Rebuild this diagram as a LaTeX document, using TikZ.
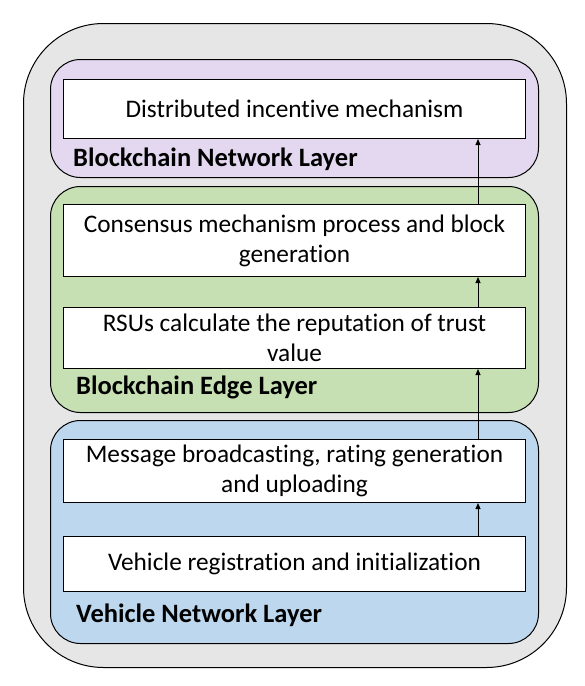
\documentclass[tikz,border=0pt]{standalone}
\usepackage{fontspec}
\setmainfont{Carlito}[Ligatures=NoCommon]
\usetikzlibrary{arrows.meta}
\definecolor{outerfill}{HTML}{E6E6E6}
\definecolor{purplefill}{HTML}{E4D8F0}
\definecolor{greenfill}{HTML}{C6E0B4}
\definecolor{bluefill}{HTML}{BDD7EE}
\begin{document}
\begin{tikzpicture}[x=1pt,y=-1pt,
  panel/.style={draw=black, line width=1pt, anchor=north west, inner sep=0pt},
  layer/.style={panel, rounded corners=30pt, minimum width=488pt},
  stepbox/.style={panel, fill=white, minimum width=462pt, align=center,
    font=\fontsize{25.3}{30}\selectfont},
  layerlabel/.style={anchor=base west, inner sep=0pt, font=\fontsize{26.5}{30}\selectfont\bfseries},
  flow/.style={draw=black, line width=1pt, -{Triangle[width=5pt,length=6pt]}}]
\useasboundingbox (0,0) rectangle (585,686);
\node[panel, fill=outerfill, rounded corners=80pt, minimum width=543pt, minimum height=644pt] (outer) at (23,23) {};
\node[layer, fill=purplefill, minimum height=118pt] (bnl) at (50,59) {};
\node[layer, fill=greenfill, minimum height=226pt] (bel) at (50,186) {};
\node[layer, fill=bluefill, minimum height=223pt] (vnl) at (50,420) {};
\node[stepbox, minimum height=59pt] (b1) at (63,79) {Distributed incentive mechanism};
\node[stepbox, minimum height=72pt] (b2) at (63,204) {Consensus mechanism process and block\\generation};
\node[stepbox, minimum height=61pt] (b3) at (63,307) {RSUs calculate the reputation of trust\\value};
\node[stepbox, minimum height=63pt] (b4) at (63,439) {Message broadcasting, rating generation\\and uploading};
\node[stepbox, minimum height=55pt] (b5) at (63,536) {Vehicle registration and initialization};
\node[layerlabel] (l1) at (73,166) {Blockchain Network Layer};
\node[layerlabel] (l2) at (76,394) {Blockchain Edge Layer};
\node[layerlabel] (l3) at (76,622) {Vehicle Network Layer};
\coordinate (ax) at (478,0);
\draw[flow] (b5.north -| ax) -- (b4.south -| ax);
\draw[flow] (b4.north -| ax) -- (b3.south -| ax);
\draw[flow] (b3.north -| ax) -- (b2.south -| ax);
\draw[flow] (b2.north -| ax) -- (b1.south -| ax);
\end{tikzpicture}
\end{document}
